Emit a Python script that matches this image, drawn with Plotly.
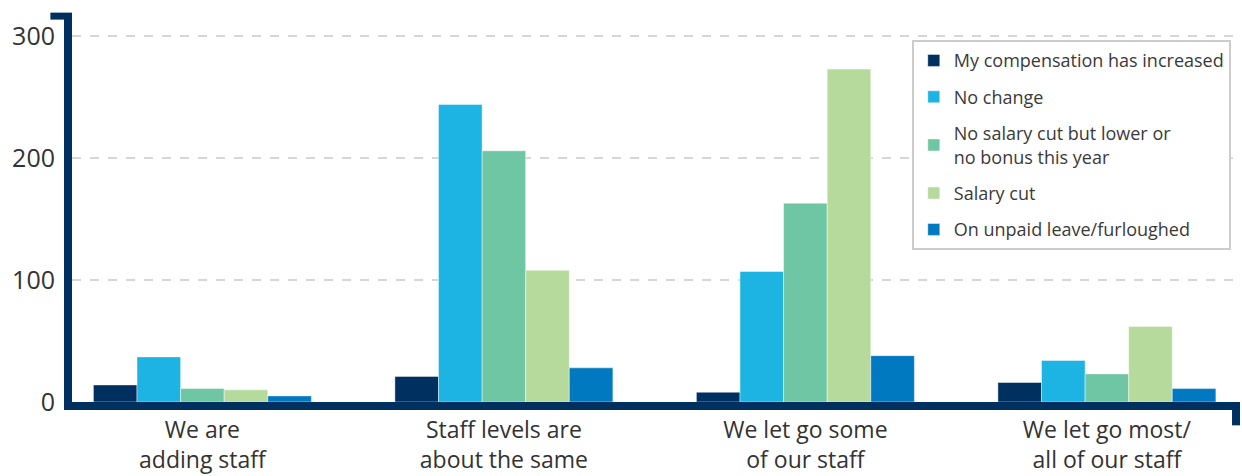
import plotly.graph_objects as go

# Staffing situation of the respondent's employer
categories = [
    "We are<br>adding staff",
    "Staff levels are<br>about the same",
    "We let go some<br>of our staff",
    "We let go most/<br>all of our staff",
]

# Compensation outcome series (respondent counts)
series_names = [
    "My compensation has increased",
    "No change",
    "No salary cut but lower or<br>no bonus this year",
    "Salary cut",
    "On unpaid leave/furloughed",
]
comp_increased = [14, 21, 8, 16]
no_change = [37, 244, 107, 34]
lower_bonus = [11, 206, 163, 23]
salary_cut = [10, 108, 273, 62]
unpaid_leave = [5, 28, 38, 11]

series_values = [comp_increased, no_change, lower_bonus, salary_cut, unpaid_leave]
colors = ["#00305f", "#1db3e3", "#6fc6a4", "#b6da9b", "#0079c1"]

y_ticks = [0, 100, 200, 300]

NAVY = "#00305f"
TEXT = "#333333"
FONT = "'Open Sans', Lato, sans-serif"

fig = go.Figure()
for i, (name, vals, col) in enumerate(zip(series_names, series_values, colors)):
    fig.add_trace(go.Bar(
        x=list(range(len(categories))),
        y=vals,
        name=name,
        legendgroup=f"g{i}",
        marker=dict(color=col, line=dict(color="rgba(255,255,255,0.55)", width=0.8)),
        hoverinfo="y+name",
    ))

fig.update_layout(
    width=1242,
    height=476,
    margin=dict(l=72, r=2, t=13, b=74),
    paper_bgcolor="white",
    plot_bgcolor="white",
    barmode="group",
    bargap=0.277,
    bargroupgap=0,
    font=dict(family=FONT, color=TEXT),
    showlegend=True,
    legend=dict(
        x=0.719, y=0.93, xanchor="left", yanchor="top",
        bgcolor="white",
        bordercolor="#cccccc",
        borderwidth=2,
        font=dict(family=FONT, size=18, color="#3a3a3a"),
        tracegroupgap=10,
        traceorder="grouped",
    ),
    xaxis=dict(
        range=[-0.4325, 3.4415],
        tickmode="array",
        tickvals=list(range(len(categories))),
        ticktext=categories,
        tickfont=dict(family=FONT, size=23, color=TEXT),
        ticklabelstandoff=0,
        automargin=False,
        showline=True,
        linecolor=NAVY,
        linewidth=8,
        showgrid=False,
        zeroline=False,
        ticks="",
        fixedrange=True,
    ),
    yaxis=dict(
        range=[0, 319],
        tickmode="array",
        tickvals=y_ticks,
        tickfont=dict(family=FONT, size=25, color=TEXT),
        ticklabelstandoff=4,
        automargin=False,
        showline=True,
        linecolor=NAVY,
        linewidth=8,
        showgrid=True,
        gridcolor="#d6d6d6",
        gridwidth=1.5,
        griddash="dash",
        zeroline=False,
        ticks="",
        fixedrange=True,
    ),
)

# Bracket caps on the axis frame: a stub at the top of the value axis and
# a short drop at the right end of the category axis
fig.add_shape(type="line", xref="paper", yref="paper",
              x0=-0.0185, x1=0.0, y0=0.992, y1=0.992,
              line=dict(color=NAVY, width=7))
fig.add_shape(type="line", xref="paper", yref="paper",
              x0=0.9966, x1=0.9966, y0=-0.005, y1=-0.06,
              line=dict(color=NAVY, width=8))

fig.write_html("out.html")
